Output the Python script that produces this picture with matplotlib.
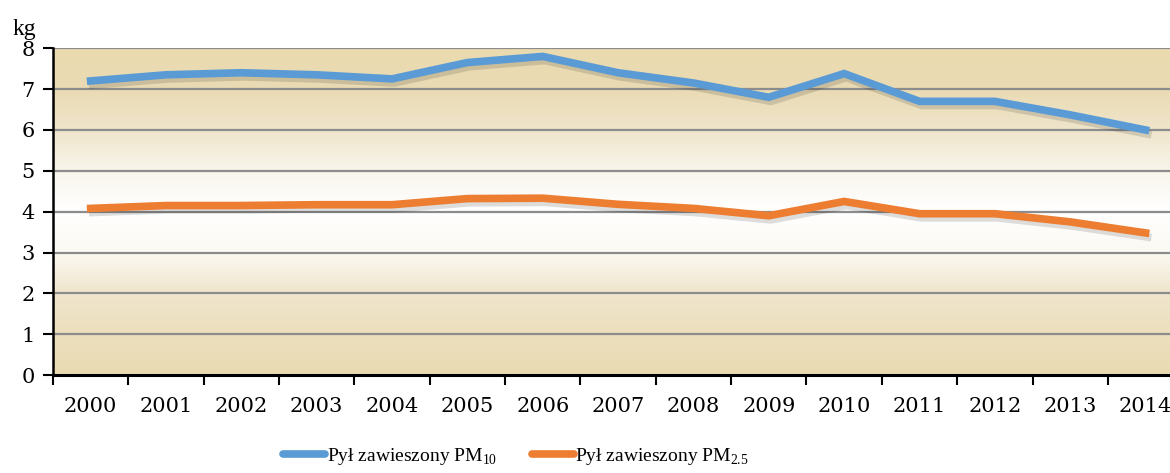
import numpy as np
import matplotlib.pyplot as plt
import matplotlib.patheffects as pe
from matplotlib.colors import LinearSegmentedColormap

plt.rcParams['font.family'] = ['Liberation Serif', 'DejaVu Serif']
plt.rcParams['mathtext.fontset'] = 'custom'
plt.rcParams['mathtext.rm'] = 'Liberation Serif'

# dane
lata = ['2000', '2001', '2002', '2003', '2004', '2005', '2006', '2007',
        '2008', '2009', '2010', '2011', '2012', '2013', '2014']
pm10 = [7.2, 7.35, 7.4, 7.35, 7.25, 7.65, 7.8, 7.4, 7.15, 6.8, 7.38, 6.7, 6.7, 6.37, 6.0]
pm25 = [4.08, 4.15, 4.15, 4.17, 4.17, 4.32, 4.33, 4.18, 4.08, 3.9, 4.25, 3.95, 3.95, 3.75, 3.48]
etykiety = ['Pył zawieszony PM$_{10}$', 'Pył zawieszony PM$_{2.5}$']
kolory = ['#5b9bd5', '#ed7d31']

fig = plt.figure(figsize=(11.7, 4.73), dpi=100)
ax = fig.add_axes([0.0453, 0.207, 0.966, 0.691])

x = np.arange(len(lata))

# tło z gradientem
tlo = LinearSegmentedColormap.from_list('tlo', [
    (0.0, '#e9dab1'), (0.25, '#efe5cb'), (0.375, '#fbf9f3'), (0.5, '#ffffff'),
    (0.625, '#f9f5ec'), (0.75, '#efe5cb'), (0.875, '#eadbb4'), (1.0, '#e9daaf')])
grad = np.linspace(0, 1, 256).reshape(-1, 1)
ax.imshow(grad, cmap=tlo, aspect='auto', origin='lower',
          extent=[-0.5, 14.5, 0, 8], zorder=0)

for v in range(1, 9):
    ax.axhline(v, color='#8c8c8c', lw=1.6, zorder=1)

cien = [pe.SimpleLineShadow(offset=(1.5, -3), shadow_color='k', alpha=0.13),
        pe.Normal()]
for y, kol, lab in zip([pm10, pm25], kolory, etykiety):
    ax.plot(x, y, color=kol, lw=5.5, label=lab, zorder=3,
            solid_joinstyle='miter', path_effects=cien)

ax.set_xlim(-0.5, 14.5)
ax.set_ylim(0, 8)

ax.set_xticks(np.arange(-0.5, 15, 1))
ax.set_xticklabels([])
ax.set_xticks(x, minor=True)
ax.set_xticklabels(lata, minor=True, fontsize=15, family='DejaVu Serif')
ax.tick_params(axis='x', which='major', direction='out', length=7, width=1.5)
ax.tick_params(axis='x', which='minor', length=0, pad=16)
ax.set_yticks(range(0, 9))
ax.set_yticklabels([str(v) for v in range(0, 9)], fontsize=15, family='DejaVu Serif')
ax.tick_params(axis='y', direction='out', length=7, width=1.5, pad=6)

for s in ['top', 'right']:
    ax.spines[s].set_visible(False)
ax.spines['left'].set_linewidth(1.8)
ax.spines['bottom'].set_linewidth(2.2)
ax.spines['left'].set_zorder(4)
ax.spines['bottom'].set_zorder(4)

fig.text(0.011, 0.925, 'kg', fontsize=17)

leg = fig.legend(loc='center', bbox_to_anchor=(0.441, 0.035), ncol=2, frameon=False,
                 fontsize=14, handlelength=2.15, handletextpad=0.1, columnspacing=1.8)
for h in leg.get_lines():
    h.set_path_effects([])
    h.set_solid_capstyle('round')

fig.savefig('out.png', dpi=100)
